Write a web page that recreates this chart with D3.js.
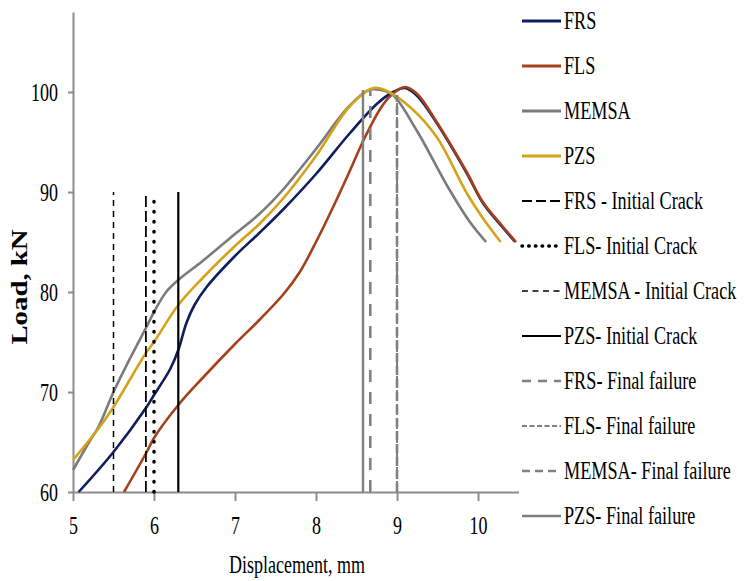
<!DOCTYPE html>
<html>
<head>
<meta charset="utf-8">
<script src="https://cdn.jsdelivr.net/npm/d3@7"></script>
<style>
  body { margin: 0; background: #fff; }
  text { font-family: "Liberation Serif", "Times New Roman", serif; fill: #000; }
</style>
</head>
<body>
<div id="vis"></div>
<script>
//chart data

const X_TICKS = [5, 6, 7, 8, 9, 10];
const Y_TICKS = [60, 70, 80, 90, 100];

//load-displacement curves, [displacement mm, load kN]
const FRS = [[5.07, 60], [5.5, 64.0], [5.9, 68.4], [6.0, 69.7], [6.2, 72.3], [6.3, 74.2], [6.4, 76.9],
  [6.5, 78.7], [6.65, 80.5], [7.0, 83.6], [7.3, 85.9], [7.6, 88.3], [8.0, 91.8], [8.42, 95.9],
  [8.75, 98.8], [8.93, 99.9], [9.1, 100.4], [9.25, 99.6], [9.49, 96.9], [9.86, 91.9], [10.06, 88.9],
  [10.3, 86.5], [10.46, 85.0]];
const FLS = [[5.63, 60], [5.91, 64.0], [6.0, 65.4], [6.3, 68.7], [6.6, 71.4], [7.0, 74.8], [7.3, 77.2],
  [7.6, 79.8], [7.8, 82.0], [8.0, 85.0], [8.2, 88.3], [8.4, 91.8], [8.6, 95.4], [8.8, 98.4], [8.93, 99.7],
  [9.1, 100.5], [9.25, 99.8], [9.49, 97.0], [9.86, 92.0], [10.06, 89.0], [10.3, 86.6], [10.47, 85.0]];
const MEMSA = [[5.0, 62.2], [5.2, 65.0], [5.32, 66.6], [5.5, 70.0], [5.7, 73.3], [5.9, 76.4], [6.0, 78.0],
  [6.15, 80.0], [6.3, 81.2], [6.6, 83.1], [7.0, 85.8], [7.3, 87.8], [7.6, 90.3], [8.0, 94.3],
  [8.4, 98.5], [8.65, 100.2], [8.8, 100.2], [8.95, 99.7], [9.24, 96.2], [9.65, 90.2], [9.9, 87.0],
  [10.1, 85.0]];
const PZS = [[5.0, 63.2], [5.32, 66.4], [5.5, 68.5], [5.9, 73.9], [6.0, 75.0], [6.3, 78.7], [6.6, 81.4],
  [7.0, 84.6], [7.3, 86.8], [7.6, 89.4], [8.0, 93.6], [8.42, 98.6], [8.71, 100.4], [8.85, 100.2],
  [9.16, 98.5], [9.49, 95.5], [9.86, 89.9], [10.05, 87.5], [10.28, 85.0]];

//vertical markers: crack and failure displacements
const MARKER_X = [5.9, 6.0, 5.5, 6.3, 8.67, 9.0, 9.0, 8.58];
const MARKER_TOP = [90, 90, 90, 90, 100.1, 99.7, 99.7, 100.2];
const MARKER_BOTTOM = 60;

const LEGEND_LABELS = ["FRS", "FLS", "MEMSA", "PZS",
  "FRS - Initial Crack", "FLS- Initial Crack", "MEMSA - Initial Crack", "PZS- Initial Crack",
  "FRS- Final failure", "FLS- Final failure", "MEMSA- Final failure", "PZS- Final failure"];

//styles
const SERIES = [FRS, FLS, MEMSA, PZS];
const SERIES_COLORS = ["#101d5e", "#a3411b", "#7b7b7b", "#d4a31b"];
const MARKER_STYLES = [
  {color: "#000", width: 1.8, dash: "11,4", legendDash: "10,4"},
  {color: "#000", width: 3.5, dash: "0.5,9.5", legendDash: "0.5,6.2", cap: "round"},
  {color: "#000", width: 1.5, dash: "6,5", legendDash: "6,4.5"},
  {color: "#000", width: 2.2, dash: null, legendDash: null},
  {color: "#808080", width: 2.6, dash: "12,10", legendDash: "9,7"},
  {color: "#808080", width: 2, dash: "4,3", legendDash: "5,2.5"},
  {color: "#808080", width: 2.6, dash: "9,4", legendDash: "8,5"},
  {color: "#808080", width: 2.4, dash: null, legendDash: null}
];

const FRAME_WIDTH = 746;
const FRAME_HEIGHT = 581;
const SQUEEZE = 0.72; //text in the picture is tall and narrow

const svg = d3.select("#vis")
  .append("svg")
  .attr("width", FRAME_WIDTH)
  .attr("height", FRAME_HEIGHT);

const X_SCALE = d3.scaleLinear().domain([5, 10.5]).range([73, 518.5]);
const Y_SCALE = d3.scaleLinear().domain([60, 108]).range([492, 12]);

//axes
const xAxis = svg.append("g")
  .attr("transform", "translate(0," + Y_SCALE(60) + ")")
  .call(d3.axisBottom(X_SCALE).tickValues(X_TICKS).tickSize(9).tickSizeOuter(0).tickFormat(d3.format("d")));
xAxis.selectAll(".tick text")
  .attr("y", 33).attr("dy", "0.35em")
  .attr("font-size", 25)
  .attr("transform", "scale(" + SQUEEZE + ",1)");

const yAxis = svg.append("g")
  .attr("transform", "translate(" + X_SCALE(5) + ",0)")
  .call(d3.axisLeft(Y_SCALE).tickValues(Y_TICKS).tickSize(5).tickSizeOuter(0));
yAxis.selectAll(".tick text")
  .attr("x", -15 / SQUEEZE)
  .attr("dy", "0.35em")
  .attr("font-size", 25)
  .attr("transform", "scale(" + SQUEEZE + ",1)");

svg.selectAll(".domain, .tick line")
  .attr("stroke", "#8c8c8c")
  .attr("stroke-width", 2);
svg.selectAll(".tick text").attr("fill", "#000").attr("font-family", "Liberation Serif");

//axis titles
svg.append("text")
  .attr("transform", "translate(297,564) scale(" + SQUEEZE + ",1)")
  .attr("text-anchor", "middle")
  .attr("dy", "0.35em")
  .attr("font-size", 25)
  .text("Displacement, mm");

svg.append("text")
  .attr("transform", "translate(19,287) rotate(-90) scale(1.2,1)")
  .attr("text-anchor", "middle")
  .attr("dy", "0.35em")
  .attr("font-size", 24)
  .attr("font-weight", "bold")
  .text("Load, kN");

//curves
const line = d3.line()
  .x((d) => X_SCALE(d[0]))
  .y((d) => Y_SCALE(d[1]))
  .curve(d3.curveCatmullRom.alpha(0.5));

svg.append("g").selectAll("path")
  .data(SERIES)
  .enter()
  .append("path")
  .attr("d", line)
  .attr("fill", "none")
  .attr("stroke", (d, i) => SERIES_COLORS[i])
  .attr("stroke-width", 2.6);

//vertical crack / failure lines
svg.append("g").selectAll("line")
  .data(MARKER_X)
  .enter()
  .append("line")
  .attr("x1", (d) => X_SCALE(d))
  .attr("x2", (d) => X_SCALE(d))
  .attr("y1", Y_SCALE(MARKER_BOTTOM))
  .attr("y2", (d, i) => Y_SCALE(MARKER_TOP[i]))
  .attr("stroke", (d, i) => MARKER_STYLES[i].color)
  .attr("stroke-width", (d, i) => MARKER_STYLES[i].width)
  .attr("stroke-dasharray", (d, i) => MARKER_STYLES[i].dash)
  .attr("stroke-linecap", (d, i) => MARKER_STYLES[i].cap || "butt");

//legend
const legend = svg.append("g").selectAll("g")
  .data(LEGEND_LABELS)
  .enter()
  .append("g")
  .attr("transform", (d, i) => "translate(522," + (20 + 45 * i) + ")");

legend.append("line")
  .attr("x1", 0).attr("x2", 39)
  .attr("y1", 1).attr("y2", 1)
  .attr("stroke", (d, i) => i < 4 ? SERIES_COLORS[i] : MARKER_STYLES[i - 4].color)
  .attr("stroke-width", (d, i) => i < 4 ? 3 : MARKER_STYLES[i - 4].width)
  .attr("stroke-dasharray", (d, i) => i < 4 ? null : MARKER_STYLES[i - 4].legendDash)
  .attr("stroke-linecap", (d, i) => i < 4 ? "butt" : (MARKER_STYLES[i - 4].cap || "butt"));

legend.append("text")
  .attr("transform", "translate(42,0) scale(0.7,1)")
  .attr("dy", "0.35em")
  .attr("font-size", 26)
  .text((d) => d);
</script>
</body>
</html>
